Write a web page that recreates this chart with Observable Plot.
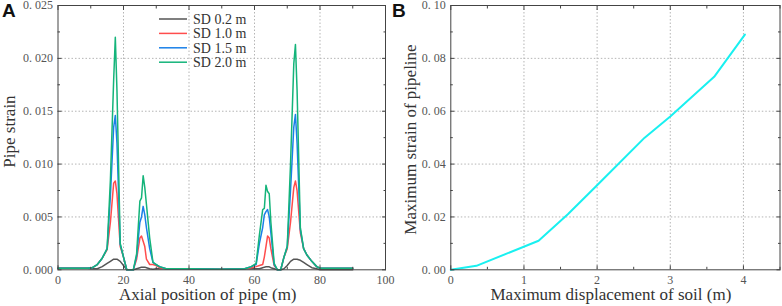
<!DOCTYPE html>
<html><head><meta charset="utf-8">
<script src="https://cdn.jsdelivr.net/npm/d3@7"></script>
<script src="https://cdn.jsdelivr.net/npm/@observablehq/plot@0.6"></script>
<style>
body{margin:0;background:#fff;}
#wrap{position:relative;width:782px;height:306px;overflow:hidden;background:#fff;}
.panel{position:absolute;top:0;}
.plab{position:absolute;font:bold 19px "Liberation Sans",Arial,sans-serif;color:#111;line-height:1;}
.atitle{position:absolute;font-family:"Liberation Serif",serif;color:#333;white-space:nowrap;line-height:1;}
</style></head><body><div id="wrap"></div>
<script>
// ---------- Panel A data ----------
const axialPos = [0, 9, 10.5, 12, 13.5, 15, 16, 17, 17.5, 18, 19, 20, 21, 22, 23, 24, 25, 25.5, 26, 26.5, 27, 28, 29, 30, 31, 33, 40, 50, 57, 59, 60.5, 61.5, 62.5, 63, 63.5, 64, 64.5, 65, 66, 67, 68, 69, 70, 71, 72, 72.5, 73, 74, 75, 76, 77.5, 79, 80, 85, 90];
const sd02 = [0.00015, 0.00015, 0.0001, 0.0001, 0.0003, 0.0006, 0.0008, 0.001, 0.001, 0.001, 0.0008, 0.0004, 0, 0, 0, 0.0001, 0.0002, 0.00025, 0.00025, 0.00025, 0.0002, 0.0001, 0.00005, 0.0001, 0.0001, 0.0001, 0.0001, 0.00005, 0.0001, 0.0001, 0.0001, 0.0001, 0.0002, 0.00025, 0.00028, 0.0003, 0.00028, 0.0002, 0.0001, 0, 0, 0.0001, 0.0004, 0.0008, 0.001, 0.001, 0.001, 0.0009, 0.0007, 0.0005, 0.0002, 0.0001, 0, 0, 0];
const sd10 = [0.00015, 0.00015, 0.0002, 0.0005, 0.0011, 0.0019, 0.0045, 0.0082, 0.0084, 0.0072, 0.0022, 0.0012, 0, 0, 0, 0.001, 0.003, 0.0032, 0.0027, 0.0022, 0.001, 0.0005, 0.0005, 0.0004, 0.0002, 0.0001, 0.0001, 0.00005, 0.0001, 0.0002, 0.0003, 0.0004, 0.0005, 0.0012, 0.0022, 0.0032, 0.003, 0.002, 0.0004, 0, 0, 0.0012, 0.002, 0.0045, 0.0078, 0.0084, 0.0075, 0.0035, 0.002, 0.0014, 0.0008, 0.0003, 0.00015, 0.00015, 0.00015];
const sd15 = [0.00015, 0.00015, 0.0002, 0.0005, 0.0011, 0.002, 0.007, 0.0135, 0.0146, 0.012, 0.0024, 0.0012, 0, 0, 0, 0.0013, 0.0045, 0.005, 0.006, 0.0052, 0.004, 0.002, 0.0007, 0.0005, 0.0003, 0.0001, 0.0001, 0.00005, 0.0001, 0.0003, 0.0005, 0.0025, 0.004, 0.0052, 0.0055, 0.0057, 0.005, 0.0035, 0.0005, 0, 0, 0.0012, 0.0022, 0.0075, 0.0135, 0.0147, 0.012, 0.0038, 0.002, 0.0014, 0.0008, 0.0003, 0.00015, 0.00015, 0.00015];
const sd20 = [0.00015, 0.00015, 0.0002, 0.0005, 0.0011, 0.002, 0.0085, 0.018, 0.022, 0.017, 0.0025, 0.0012, 0, 0, 0, 0.0015, 0.0065, 0.0068, 0.0089, 0.0078, 0.0062, 0.003, 0.0007, 0.0005, 0.0003, 0.0001, 0.0001, 0.00005, 0.0001, 0.0003, 0.0006, 0.0033, 0.0057, 0.0058, 0.008, 0.0074, 0.0072, 0.0045, 0.0006, 0, 0, 0.0012, 0.0022, 0.01, 0.0195, 0.0213, 0.017, 0.004, 0.002, 0.0014, 0.0008, 0.0003, 0.00015, 0.00015, 0.00015];
const seriesNames = ["SD 0.2 m", "SD 1.0 m", "SD 1.5 m", "SD 2.0 m"];
const seriesColors = ["#555555", "#ff4d4d", "#1a80e8", "#14b47a"];
const xTicksA = [0, 20, 40, 60, 80, 100];
const xMinorA = [10, 30, 50, 70, 90];
const yTicksA = [0, 0.005, 0.01, 0.015, 0.02, 0.025];
const yMinorA = [0.0025, 0.0075, 0.0125, 0.0175, 0.0225];

// ---------- Panel B data ----------
const soilDisp = [0, 0.35, 1.2, 1.6, 2.0, 2.65, 3.0, 3.6, 4.02];
const maxStrain = [0, 0.0015, 0.011, 0.021, 0.032, 0.050, 0.058, 0.073, 0.089];
const xTicksB = [0, 1, 2, 3, 4];
const xMinorB = [0.5, 1.5, 2.5, 3.5, 4.5];
const yTicksB = [0, 0.02, 0.04, 0.06, 0.08, 0.1];
const yMinorB = [0.01, 0.03, 0.05, 0.07, 0.09];

const wrap = document.getElementById("wrap");
const gridStyle = {stroke: "#b5b5b5", strokeOpacity: 1, strokeDasharray: "1.5,2", strokeWidth: 1};
const frameColor = "#444";
const labelColor = "#555";

function boxAxes(xT, xM, yT, yM, xFmt, yFmt) {
  return [
    Plot.axisX(xT, {anchor: "bottom", tickSize: 0, tickPadding: 6, tickFormat: xFmt, fill: labelColor, label: null}),
    Plot.axisY(yT, {anchor: "left", tickSize: 0, tickPadding: 5, tickFormat: yFmt, fill: labelColor, label: null}),
    Plot.axisX(xT, {anchor: "bottom", tickSize: -4, fill: "none", stroke: frameColor, label: null}),
    Plot.axisX(xM, {anchor: "bottom", tickSize: -2.5, fill: "none", stroke: frameColor, label: null}),
    Plot.axisX(xT, {anchor: "top", tickSize: -4, fill: "none", stroke: frameColor, label: null}),
    Plot.axisX(xM, {anchor: "top", tickSize: -2.5, fill: "none", stroke: frameColor, label: null}),
    Plot.axisY(yT, {anchor: "left", tickSize: -4, fill: "none", stroke: frameColor, label: null}),
    Plot.axisY(yM, {anchor: "left", tickSize: -2.5, fill: "none", stroke: frameColor, label: null}),
    Plot.axisY(yT, {anchor: "right", tickSize: -4, fill: "none", stroke: frameColor, label: null}),
    Plot.axisY(yM, {anchor: "right", tickSize: -2.5, fill: "none", stroke: frameColor, label: null})
  ];
}

// ---------- Panel A ----------
const seriesVals = [sd02, sd10, sd15, sd20];
const rowsA = seriesNames.flatMap((name, i) => axialPos.map((x, j) => ({x, y: seriesVals[i][j], s: name})));
const fmtA = d => d3.format(".3f")(d).replace(".", ". ");
const plotA = Plot.plot({
  width: 390, height: 306,
  marginLeft: 57.5, marginRight: 5, marginTop: 5, marginBottom: 36.7,
  x: {domain: [0, 100], label: null},
  y: {domain: [0, 0.025], label: null},
  color: {domain: seriesNames, range: seriesColors},
  style: {fontFamily: "'Liberation Serif', serif", fontSize: "12px", background: "transparent", overflow: "visible"},
  marks: [
    Plot.gridX(xTicksA.slice(1, -1), gridStyle),
    Plot.gridY(yTicksA.slice(1, -1), gridStyle),
    Plot.line(rowsA, {x: "x", y: "y", z: "s", stroke: "s", strokeWidth: 1.5}),
    Plot.frame({stroke: frameColor}),
    ...boxAxes(xTicksA, xMinorA, yTicksA, yMinorA, d => String(d), fmtA)
  ]
});
const pA = document.createElement("div");
pA.className = "panel"; pA.style.left = "0px";
pA.appendChild(plotA);
wrap.appendChild(pA);

// ---------- Panel B ----------
const rowsB = soilDisp.map((x, i) => ({x, y: maxStrain[i]}));
const fmtB = d => d3.format(".2f")(d).replace(".", ". ");
const plotB = Plot.plot({
  width: 392, height: 306,
  marginLeft: 60.3, marginRight: 2.5, marginTop: 5, marginBottom: 36.7,
  x: {domain: [0, 4.5], label: null},
  y: {domain: [0, 0.1], label: null},
  style: {fontFamily: "'Liberation Serif', serif", fontSize: "12px", background: "transparent", overflow: "visible"},
  marks: [
    Plot.gridX(xTicksB.slice(1), gridStyle),
    Plot.gridY(yTicksB.slice(1, -1), gridStyle),
    Plot.line(rowsB, {x: "x", y: "y", stroke: "#19f0f0", strokeWidth: 2}),
    Plot.frame({stroke: frameColor}),
    ...boxAxes(xTicksB, xMinorB, yTicksB, yMinorB, d => String(d), fmtB)
  ]
});
const pB = document.createElement("div");
pB.className = "panel"; pB.style.left = "390px";
pB.appendChild(plotB);
wrap.appendChild(pB);

// ---------- Titles / labels ----------
function addText(cls, txt, css) {
  const d = document.createElement("div");
  d.className = cls; d.textContent = txt;
  Object.assign(d.style, css);
  wrap.appendChild(d);
  return d;
}
addText("plab", "A", {left: "2px", top: "1px"});
addText("plab", "B", {left: "392px", top: "1px"});

function centered(txt, cx, cy, size, rotate) {
  const d = addText("atitle", txt, {fontSize: size + "px", left: "0px", top: "0px"});
  const w = d.offsetWidth, h = d.offsetHeight;
  d.style.left = (cx - w / 2) + "px";
  d.style.top = (cy - h / 2) + "px";
  if (rotate) d.style.transform = "rotate(-90deg)";
}
centered("Axial position of pipe (m)", 208, 294, 17, false);
centered("Pipe strain", 9, 131, 17, true);
centered("Maximum displacement of soil (m)", 611, 294, 17, false);
centered("Maximum strain of pipeline", 410, 139, 17, true);

// ---------- Legend (panel A) ----------
const leg = d3.select(wrap).append("svg")
  .attr("width", 110).attr("height", 70)
  .style("position", "absolute").style("left", "155px").style("top", "10px");
seriesNames.forEach((name, i) => {
  const y = 9 + i * 14.4;
  leg.append("line").attr("x1", 4).attr("x2", 32).attr("y1", y).attr("y2", y)
    .attr("stroke", seriesColors[i]).attr("stroke-width", 1.5);
  leg.append("text").attr("x", 38).attr("y", y).attr("dy", "0.35em")
    .attr("font-family", "'Liberation Serif', serif").attr("font-size", 14).attr("fill", "#333")
    .text(name);
});
</script></body></html>
